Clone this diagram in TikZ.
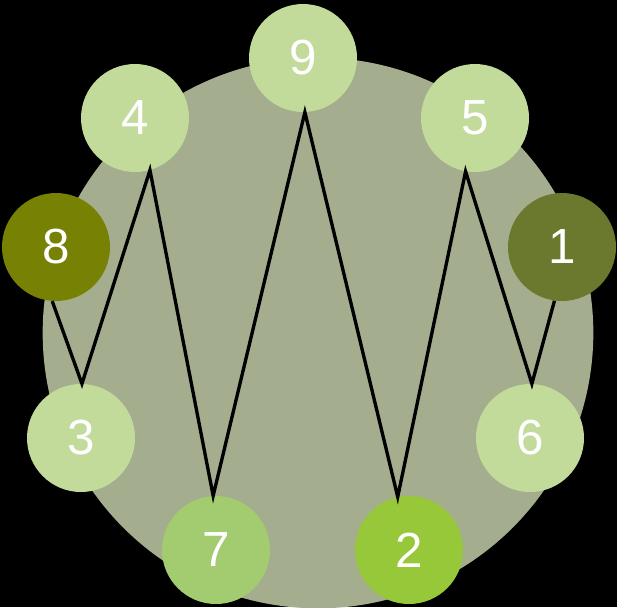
\documentclass[tikz,border=0pt]{standalone}
\usepackage{fontspec}
\setmainfont{Liberation Sans}
\definecolor{BackClr}{rgb}{0,0,0}
\definecolor{RingClr}{HTML}{A4AD8E}
\definecolor{PaleClr}{HTML}{C3DB9A}
\definecolor{MidClr}{HTML}{A3CB6F}
\definecolor{LimeClr}{HTML}{97C83A}
\definecolor{OliveClr}{HTML}{778204}
\definecolor{MossClr}{HTML}{6A792D}
\tikzset{
  ball/.style={circle,minimum size=81pt,inner sep=0pt,text=white,
    font=\fontsize{37}{37}\selectfont},
  zig/.style={line width=2.5pt,black}
}

\begin{document}
\begin{tikzpicture}[x=0.75pt,y=-0.75pt]
\fill[BackClr] (0,0) rectangle (617,607);
\useasboundingbox (0,0) rectangle (617,607);

\fill[RingClr] (318,333) circle[radius=206.5pt];

\node[ball,fill=PaleClr] (n9) at (303,58) {9};
\node[ball,fill=PaleClr] (n4) at (135,118) {4};
\node[ball,fill=PaleClr] (n5) at (475,118) {5};
\node[ball,fill=OliveClr] (n8) at (56,247) {8};
\node[ball,fill=MossClr] (n1) at (562,247) {1};
\node[ball,fill=PaleClr] (n3) at (81,438) {3};
\node[ball,fill=PaleClr] (n6) at (530,438) {6};
\node[ball,fill=MidClr] (n7) at (216,550) {7};
\node[ball,fill=LimeClr] (n2) at (409,550) {2};

\draw[zig] (n8.266) -- (n3.89) -- (n4.-74) -- (n7.93) -- (n9.-88)
  -- (n2.102) -- (n5.-100) -- (n6.88) -- (n1.-98);

\end{tikzpicture}
\end{document}
